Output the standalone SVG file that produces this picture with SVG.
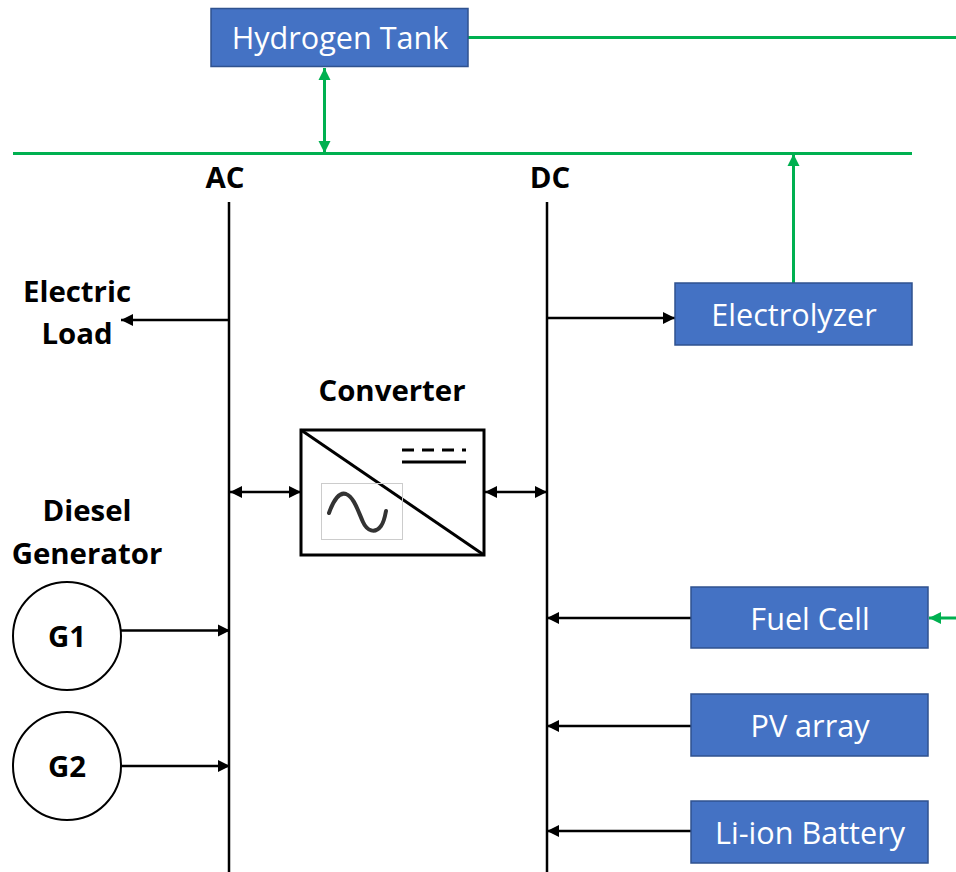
<svg xmlns="http://www.w3.org/2000/svg" width="956" height="872" viewBox="0 0 956 872">
<style>
.box{fill:#4472c4;stroke:#2f528f;stroke-width:1.5}
.bt{fill:#fff;font:30.600px "Open Sans","Noto Sans",sans-serif;text-anchor:middle}
.lb{fill:#000;font:bold 29.400px "Open Sans","Noto Sans",sans-serif;text-anchor:middle}
.k{stroke:#000;stroke-width:2.5;fill:none}
.g{stroke:#00b050;stroke-width:3;fill:none}
.c{fill:#fff;stroke:#000;stroke-width:2}
</style>
<defs>
<marker id="ka" markerUnits="userSpaceOnUse" markerWidth="13" markerHeight="13" refX="12" refY="6.500" orient="auto-start-reverse"><path d="M0 0.500L12 6.500L0 12.500z" fill="#000"/></marker>
<marker id="ga" markerUnits="userSpaceOnUse" markerWidth="13" markerHeight="13" refX="12" refY="6.500" orient="auto-start-reverse"><path d="M0 0.500L12 6.500L0 12.500z" fill="#00b050"/></marker>
</defs>
<rect width="956" height="872" fill="#fff"/>
<g id="connectors">
<path class="g" d="M468 37.500H956"/>
<path class="g" d="M13 153.500H912"/>
<path class="g" d="M324.500 68V153" marker-start="url(#ga)" marker-end="url(#ga)"/>
<path class="g" d="M793.500 283V154" marker-end="url(#ga)"/>
<path class="g" d="M956 618H929" marker-end="url(#ga)"/>
<path class="k" d="M229 202V872"/>
<path class="k" d="M547 202V872"/>
<path class="k" d="M229 320H121" marker-end="url(#ka)"/>
<path class="k" d="M547 318H675" marker-end="url(#ka)"/>
<path class="k" d="M230 492H301" marker-start="url(#ka)" marker-end="url(#ka)"/>
<path class="k" d="M485 492H547" marker-start="url(#ka)" marker-end="url(#ka)"/>
<path class="k" d="M121 630.500H230" marker-end="url(#ka)"/>
<path class="k" d="M121 766H230" marker-end="url(#ka)"/>
<path class="k" d="M691 618H547" marker-end="url(#ka)"/>
<path class="k" d="M691 726H547" marker-end="url(#ka)"/>
<path class="k" d="M691 831H547" marker-end="url(#ka)"/>
</g>
<g id="hydrogen-tank"><rect class="box" x="211" y="8.500" width="257" height="58"/><text class="bt" x="340" y="49">Hydrogen Tank</text></g>
<g id="electrolyzer"><rect class="box" x="675" y="283" width="237" height="62"/><text class="bt" x="794" y="326">Electrolyzer</text></g>
<g id="fuel-cell"><rect class="box" x="691" y="587" width="237" height="61"/><text class="bt" x="810" y="630">Fuel Cell</text></g>
<g id="pv-array"><rect class="box" x="691" y="694" width="237" height="62"/><text class="bt" x="810" y="737">PV array</text></g>
<g id="li-ion-battery"><rect class="box" x="691" y="801" width="237" height="62"/><text class="bt" x="810" y="844">Li-ion Battery</text></g>
<g id="g1"><circle class="c" cx="67" cy="636" r="54"/><text class="lb" x="67" y="647">G1</text></g>
<g id="g2"><circle class="c" cx="67" cy="766" r="54"/><text class="lb" x="67" y="777">G2</text></g>
<g id="converter">
<rect x="301" y="430" width="183" height="125" fill="#fff" stroke="#000" stroke-width="3"/>
<path d="M301 430L484 555" stroke="#000" stroke-width="3" fill="none"/>
<rect x="321.500" y="483.500" width="81" height="56" fill="none" stroke="#ccc"/>
<path d="M329 513C334 499 340 492 346 494C354 497 358 511 363 522C367 531 375 534 381 526Q384 522 386 511" fill="none" stroke="#333" stroke-width="4" stroke-linecap="round"/>
<path d="M402 450H466" stroke="#000" stroke-width="3" stroke-dasharray="12 8" fill="none"/>
<path d="M402 462H466" stroke="#000" stroke-width="3" fill="none"/>
</g>
<g id="labels">
<text class="lb" x="225" y="188">AC</text>
<text class="lb" x="550" y="188">DC</text>
<text class="lb" x="77" y="302">Electric</text>
<text class="lb" x="77" y="344">Load</text>
<text class="lb" x="392" y="401">Converter</text>
<text class="lb" x="87" y="521">Diesel</text>
<text class="lb" x="87" y="564">Generator</text>
</g>
</svg>
